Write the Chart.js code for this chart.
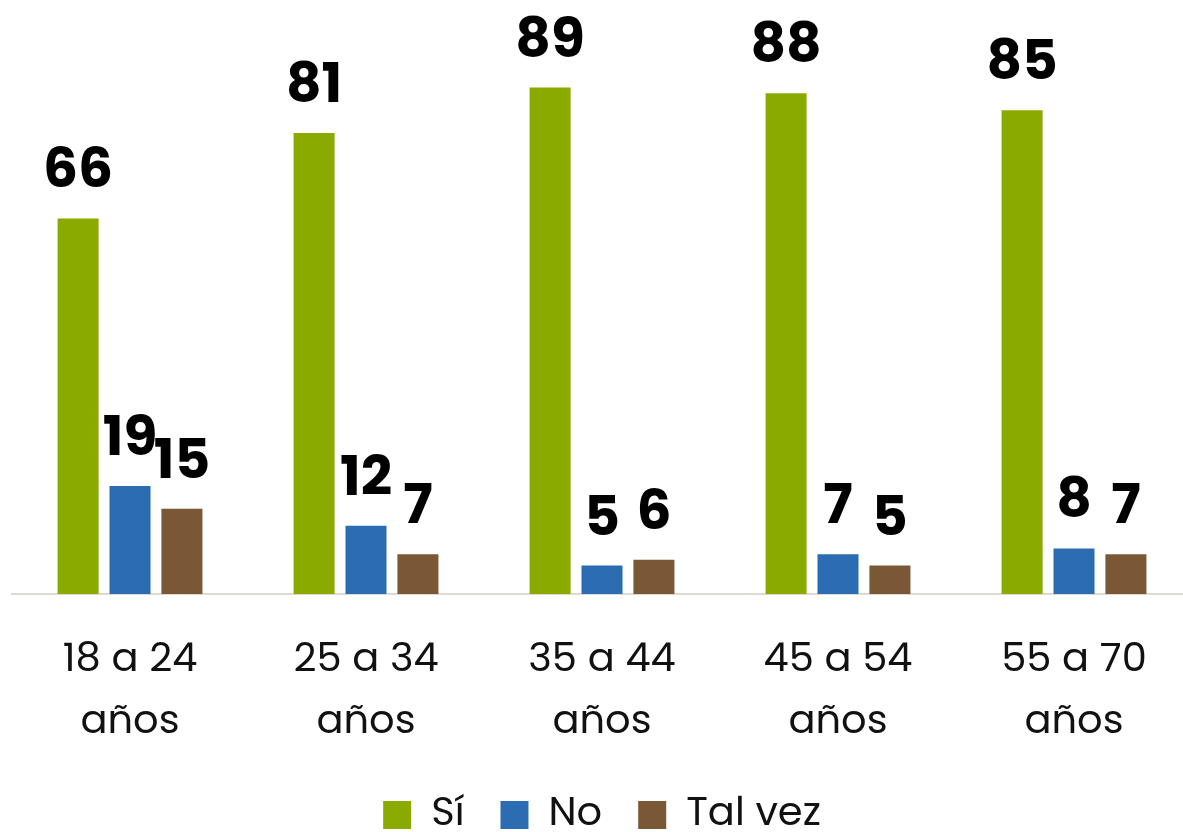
<!DOCTYPE html>
<html>
<head>
<meta charset="utf-8">
<script src="https://cdn.jsdelivr.net/npm/chart.js@4.4.1/dist/chart.umd.min.js"></script>
<style>
  html, body { margin: 0; padding: 0; background: #fff; overflow: hidden; }
  #wrap { width: 1192px; height: 849px; position: relative; }
</style>
</head>
<body>
<div id="wrap"><canvas id="chart"></canvas></div>
<script>
// Age groups and answers
const ageGroups = [['18 a 24', 'años'], ['25 a 34', 'años'], ['35 a 44', 'años'], ['45 a 54', 'años'], ['55 a 70', 'años']];
const siValues = [66, 81, 89, 88, 85];
const noValues = [19, 12, 5, 7, 8];
const talVezValues = [15, 7, 6, 5, 7];

const FONT = "'Poppins', 'Liberation Sans', Arial, sans-serif";

// Draw the value above each bar
const valueLabels = {
    id: 'valueLabels',
    afterDatasetsDraw(chart) {
        const ctx = chart.ctx;
        ctx.save();
        ctx.font = 'bold 55px ' + FONT;
        ctx.fillStyle = '#000';
        ctx.textAlign = 'center';
        ctx.textBaseline = 'alphabetic';
        chart.data.datasets.forEach((ds, i) => {
            chart.getDatasetMeta(i).data.forEach((bar, j) => {
                ctx.fillText(ds.data[j], bar.x, bar.y - 31);
            });
        });
        ctx.restore();
    }
};

const ctx = document.getElementById('chart').getContext('2d');
new Chart(ctx, {
    type: 'bar',
    data: {
        labels: ageGroups,
        datasets: [
            { label: 'Sí', data: siValues, backgroundColor: '#8BAA00' },
            { label: 'No', data: noValues, backgroundColor: '#2B6CB2' },
            { label: 'Tal vez', data: talVezValues, backgroundColor: '#7A5836' }
        ]
    },
    options: {
        responsive: true,
        maintainAspectRatio: false,
        animation: false,
        categoryPercentage: 0.66,
        barPercentage: 0.79,
        layout: { padding: { left: 12, right: 0, top: 25, bottom: 4 } },
        scales: {
            x: {
                grid: { display: false, drawTicks: false },
                border: { display: true, color: '#DDD9D3', width: 2 },
                ticks: {
                    color: '#111',
                    padding: 36,
                    font: { family: FONT, size: 40, lineHeight: 1.55 }
                },
                // labels sit closer to the legend than the default box allows
                afterFit(scale) {
                    scale.height -= 31;
                }
            },
            y: {
                display: false,
                min: 0,
                max: 100
            }
        },
        plugins: {
            legend: {
                position: 'bottom',
                labels: {
                    boxWidth: 28,
                    boxHeight: 28,
                    padding: 36,
                    color: '#111',
                    font: { family: FONT, size: 40 }
                }
            },
            tooltip: { enabled: false }
        }
    },
    plugins: [valueLabels]
});
</script>
</body>
</html>
